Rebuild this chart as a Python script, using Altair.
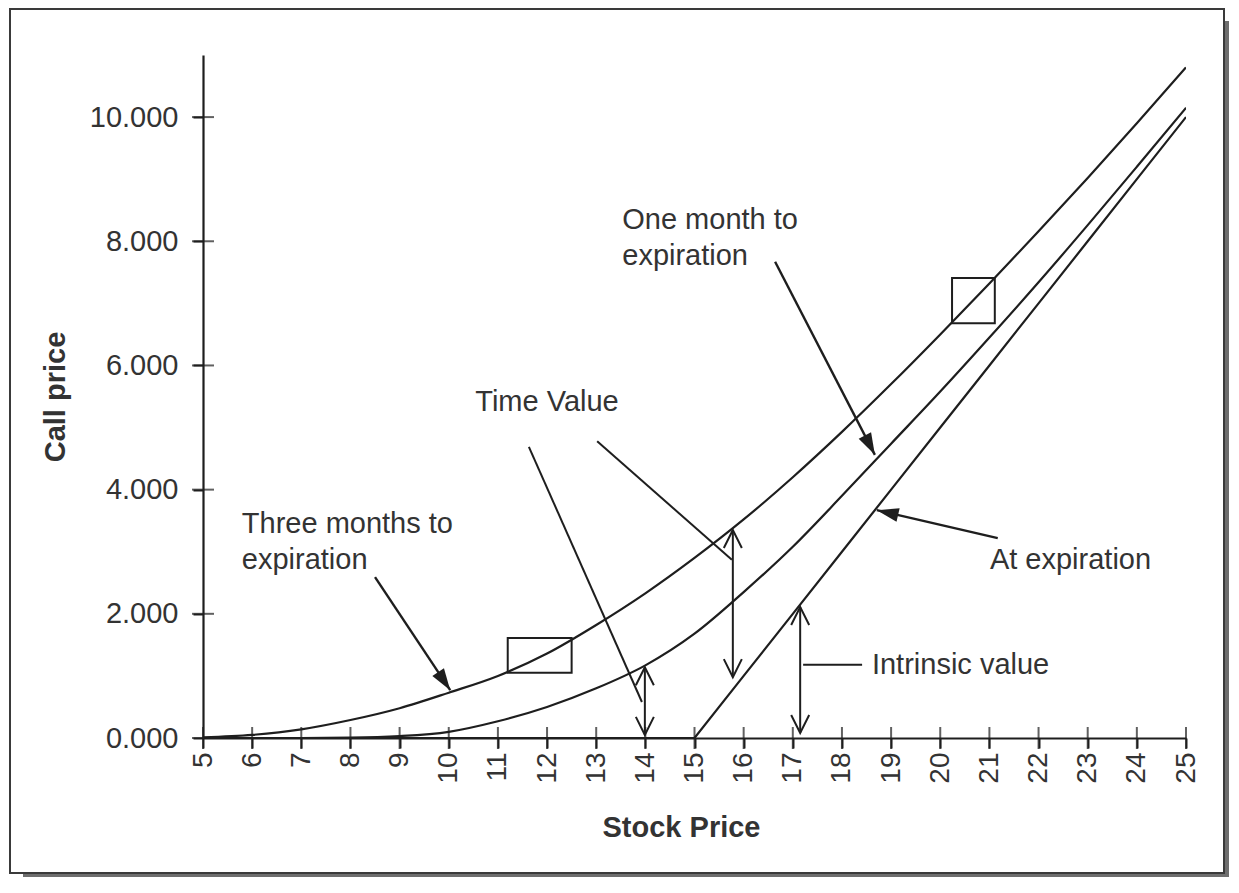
import math
import altair as alt
import pandas as pd

# ---------------- data ----------------
stock = list(range(5, 26))
three_months = [0.01, 0.05, 0.14, 0.29, 0.48, 0.73, 1.00, 1.36, 1.82, 2.33, 2.90,
                3.52, 4.20, 4.93, 5.70, 6.50, 7.32, 8.16, 9.02, 9.90, 10.80]
one_month = [0.0, 0.0, 0.0, 0.005, 0.03, 0.10, 0.27, 0.50, 0.80, 1.17, 1.68,
             2.35, 3.08, 3.90, 4.74, 5.58, 6.45, 7.34, 8.26, 9.20, 10.15]
at_expiration = [0, 0, 0, 0, 0, 0, 0, 0, 0, 0, 0, 1, 2, 3, 4, 5, 6, 7, 8, 9, 10]

y_ticks = [0, 2, 4, 6, 8, 10]
x_ticks = list(range(5, 26))

# pointer arrows (filled heads): start -> tip
arrow_x1 = [8.50, 16.64, 21.17]
arrow_y1 = [2.59, 7.67, 3.22]
arrow_x2 = [10.03, 18.67, 18.71]
arrow_y2 = [0.77, 4.56, 3.67]

# "Time Value" pointer lines (no head)
tv_x1 = [11.63, 13.02]
tv_y1 = [4.69, 4.78]
tv_x2 = [13.93, 15.76]
tv_y2 = [0.58, 2.87]

# double-headed vertical arrows
dbl_x = [13.99, 15.78, 17.15]
dbl_lo = [0.05, 0.98, 0.08]
dbl_hi = [1.14, 3.35, 2.11]

# connector from intrinsic value arrow to its label
conn_x1 = [17.21]
conn_x2 = [18.41]
conn_y = [1.18]

# square markers on the three-month curve
box_x1 = [11.2, 20.24]
box_x2 = [12.5, 21.11]
box_y1 = [1.05, 6.68]
box_y2 = [1.61, 7.41]

# annotation texts
ann_text = ["Three months to", "expiration", "One month to", "expiration",
            "Time Value", "Intrinsic value", "At expiration"]
ann_x = [5.79, 5.79, 13.53, 13.53, 10.54, 18.61, 21.01]
ann_y = [3.45, 2.86, 8.35, 7.76, 5.41, 1.18, 2.87]

# ---------------- layout ----------------
W, H = 983, 683
X_DOM = [5, 25]
Y_DOM = [0, 11]
PX_X = W / (X_DOM[1] - X_DOM[0])
PX_Y = H / (Y_DOM[1] - Y_DOM[0])
PAD_L, PAD_T, PAD_R, PAD_B = 195, 47, 43, 139
FONT = "Liberation Sans"
INK = "#1e1e1e"
TXT = "#333333"

xs = alt.Scale(domain=X_DOM, nice=False, zero=False)
ys = alt.Scale(domain=Y_DOM, nice=False, zero=False)

curves = pd.DataFrame({
    "stock": stock * 2,
    "price": three_months + one_month,
    "series": ["Three months"] * 21 + ["One month"] * 21,
})
expiry = pd.DataFrame({"stock": stock, "price": at_expiration})

arrows = pd.DataFrame({"x1": arrow_x1, "y1": arrow_y1, "x2": arrow_x2, "y2": arrow_y2})
arrows["ang"] = [
    (math.degrees(math.atan2((x2 - x1) * PX_X, (y2 - y1) * PX_Y))) % 360
    for x1, y1, x2, y2 in zip(arrow_x1, arrow_y1, arrow_x2, arrow_y2)
]
tv = pd.DataFrame({"x1": tv_x1, "y1": tv_y1, "x2": tv_x2, "y2": tv_y2})
dbl = pd.DataFrame({"x": dbl_x, "lo": dbl_lo, "hi": dbl_hi})
conn = pd.DataFrame({"x1": conn_x1, "x2": conn_x2, "y": conn_y})
boxes = pd.DataFrame({"x1": box_x1, "x2": box_x2, "y1": box_y1, "y2": box_y2})
ann = pd.DataFrame({"t": ann_text, "x": ann_x, "y": ann_y})
xt = pd.DataFrame({"v": x_ticks})
yt = pd.DataFrame({"v": y_ticks})

# frame and shadow (decoration around the whole figure)
frame = alt.Chart(pd.DataFrame({"a": [0]})).mark_rect(
    fillOpacity=0, stroke="#3a3a3a", strokeWidth=2
).encode(x=alt.value(-193), x2=alt.value(W + 38), y=alt.value(-46), y2=alt.value(H + 135))
shadow_r = alt.Chart(pd.DataFrame({"a": [0]})).mark_rect(color="#6e6e6e").encode(
    x=alt.value(W + 39), x2=alt.value(W + 44), y=alt.value(-34), y2=alt.value(H + 139))
shadow_b = alt.Chart(pd.DataFrame({"a": [0]})).mark_rect(color="#6e6e6e").encode(
    x=alt.value(-180), x2=alt.value(W + 44), y=alt.value(H + 136), y2=alt.value(H + 139))

x_enc = alt.X("stock:Q", scale=xs, axis=alt.Axis(
    values=x_ticks, labelAngle=270, tickSize=10, tickColor=INK, tickWidth=2,
    domainColor=INK, domainWidth=2.2, labelFont=FONT, labelFontSize=28,
    labelColor=TXT, labelPadding=4, grid=False, title="Stock Price",
    titleFont=FONT, titleFontSize=29, titleFontWeight="bold", titleColor=TXT,
    titlePadding=30, titleX=478, zindex=1))
y_enc = alt.Y("price:Q", scale=ys, axis=alt.Axis(
    values=y_ticks, format=".3f", tickSize=10, tickColor=INK, tickWidth=2,
    domainColor=INK, domainWidth=2.2, labelFont=FONT, labelFontSize=29,
    labelColor=TXT, labelPadding=15, grid=False, title="Call price",
    titleFont=FONT, titleFontSize=29, titleFontWeight="bold", titleColor=TXT,
    titlePadding=19, zindex=1))

smooth_lines = alt.Chart(curves).mark_line(
    color=INK, strokeWidth=2.2, interpolate="monotone", clip=True
).encode(x=x_enc, y=y_enc, detail="series:N")

expiry_line = alt.Chart(expiry).mark_line(
    color=INK, strokeWidth=2.2, interpolate="linear", clip=True
).encode(x=alt.X("stock:Q", scale=xs), y=alt.Y("price:Q", scale=ys))

xtick_marks = alt.Chart(xt).mark_tick(orient="vertical", size=22, thickness=2, color=INK).encode(
    x=alt.X("v:Q", scale=xs), y=alt.datum(0, scale=ys))
ytick_marks = alt.Chart(yt).mark_tick(orient="horizontal", size=22, thickness=2, color=INK).encode(
    y=alt.Y("v:Q", scale=ys), x=alt.datum(5, scale=xs))

arrow_lines = alt.Chart(arrows).mark_rule(color=INK, strokeWidth=2.4).encode(
    x=alt.X("x1:Q", scale=xs), y=alt.Y("y1:Q", scale=ys), x2="x2:Q", y2="y2:Q")
arrow_heads = alt.Chart(arrows).mark_point(
    shape="M0,0 L-0.32,1 L0.32,1 Z", filled=True, color=INK, opacity=1, size=1900
).encode(x=alt.X("x2:Q", scale=xs), y=alt.Y("y2:Q", scale=ys),
         angle=alt.Angle("ang:Q", scale=None))

tv_lines = alt.Chart(tv).mark_rule(color=INK, strokeWidth=2).encode(
    x=alt.X("x1:Q", scale=xs), y=alt.Y("y1:Q", scale=ys), x2="x2:Q", y2="y2:Q")

dbl_lines = alt.Chart(dbl).mark_rule(color=INK, strokeWidth=2).encode(
    x=alt.X("x:Q", scale=xs), y=alt.Y("lo:Q", scale=ys), y2="hi:Q")
dbl_up = alt.Chart(dbl).mark_point(
    shape="M-0.5,1 L0,0 L0.5,1", filled=False, color=INK, opacity=1, size=1296, strokeWidth=2
).encode(x=alt.X("x:Q", scale=xs), y=alt.Y("hi:Q", scale=ys))
dbl_down = alt.Chart(dbl).mark_point(
    shape="M-0.5,-1 L0,0 L0.5,-1", filled=False, color=INK, opacity=1, size=1296, strokeWidth=2
).encode(x=alt.X("x:Q", scale=xs), y=alt.Y("lo:Q", scale=ys))

conn_line = alt.Chart(conn).mark_rule(color=INK, strokeWidth=2).encode(
    x=alt.X("x1:Q", scale=xs), x2="x2:Q", y=alt.Y("y:Q", scale=ys))

box_marks = alt.Chart(boxes).mark_rect(fillOpacity=0, stroke=INK, strokeWidth=2).encode(
    x=alt.X("x1:Q", scale=xs), x2="x2:Q", y=alt.Y("y1:Q", scale=ys), y2="y2:Q")

texts = alt.Chart(ann).mark_text(
    align="left", baseline="middle", font=FONT, fontSize=29, color=TXT
).encode(x=alt.X("x:Q", scale=xs), y=alt.Y("y:Q", scale=ys), text="t:N")

chart = alt.layer(
    frame, shadow_r, shadow_b, smooth_lines, expiry_line, xtick_marks, ytick_marks,
    arrow_lines, arrow_heads, tv_lines, dbl_lines, dbl_up, dbl_down,
    conn_line, box_marks, texts
).properties(
    width=W, height=H,
    autosize=alt.AutoSizeParams(type="none"),
    padding={"left": PAD_L, "top": PAD_T, "right": PAD_R, "bottom": PAD_B},
    background="white",
).configure_view(strokeOpacity=0)

chart.save("out.html", embed_options={"renderer": "svg", "actions": False})
